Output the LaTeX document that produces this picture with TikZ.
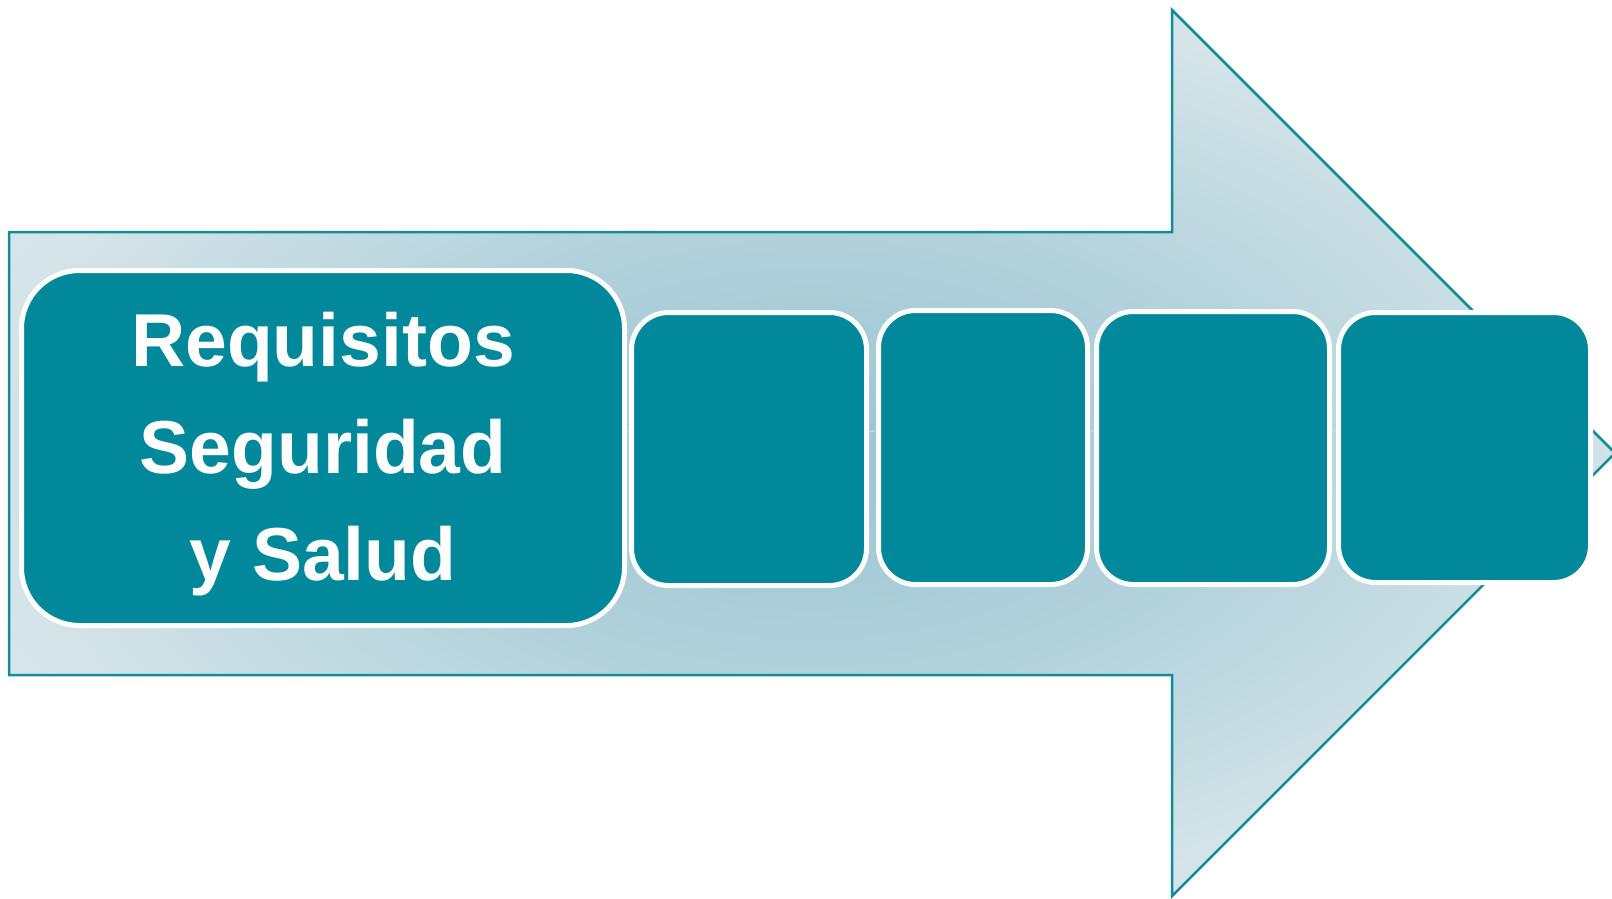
\documentclass[tikz,border=0pt]{standalone}
\usepackage{fontspec}
\setmainfont{Liberation Sans}
\definecolor{boxfill}{HTML}{01889A}
\definecolor{arrowedge}{HTML}{138C9A}
\definecolor{gin}{HTML}{9AC5D2}
\definecolor{gq}{HTML}{B4D3DC}
\definecolor{gmid}{HTML}{D5E4E9}
\definecolor{gout}{HTML}{DDE9EC}
\definecolor{connc}{HTML}{C9E1E7}
\pgfdeclareradialshading{arrowshade}{\pgfpoint{0bp}{0bp}}{color(0bp)=(gin); color(14bp)=(gq); color(26bp)=(gmid); color(36bp)=(gout); color(50bp)=(gout)}
\begin{document}
\begin{tikzpicture}[x=1pt,y=-1pt,
  box/.style={draw=white, line width=5pt, fill=boxfill, rounded corners=#1, inner sep=0pt},
  lbl/.style={text=white, align=center, inner sep=0pt,
      font=\bfseries\fontsize{75pt}{107pt}\selectfont},
  conn/.style={draw=connc, line width=1pt}]
\useasboundingbox (0,0) rectangle (1612,898);
\shadedraw[shading=arrowshade, draw=arrowedge, line width=2.5pt, line join=miter]
  (9,232) -- (1172,232) -- (1172,10) -- (1615,453) -- (1172,896) -- (1172,675) -- (9,675) -- cycle;
\node[box=58pt, minimum width=603pt, minimum height=355pt] (b1) at (323,448) {};
\node[lbl] (t1) at ([yshift=-6pt]b1.center) {Requisitos\\Seguridad\\y Salud};
\node[box=37pt, minimum width=235pt, minimum height=273pt] (b2) at (749,449) {};
\node[box=37pt, minimum width=209pt, minimum height=274pt] (b3) at (983,447.5) {};
\node[box=37pt, minimum width=233pt, minimum height=273pt] (b4) at (1213,448) {};
\node[box=37pt, minimum width=252pt, minimum height=270pt] (b5) at (1464.5,447.5) {};
\draw[conn] ([yshift=17pt]b1.east) -- ([yshift=17pt]b2.west);
\draw[conn] ([yshift=17pt]b2.east) -- ([yshift=17pt]b3.west);
\draw[conn] ([yshift=17pt]b3.east) -- ([yshift=17pt]b4.west);
\draw[conn] ([yshift=17pt]b4.east) -- ([yshift=17pt]b5.west);
\end{tikzpicture}
\end{document}
